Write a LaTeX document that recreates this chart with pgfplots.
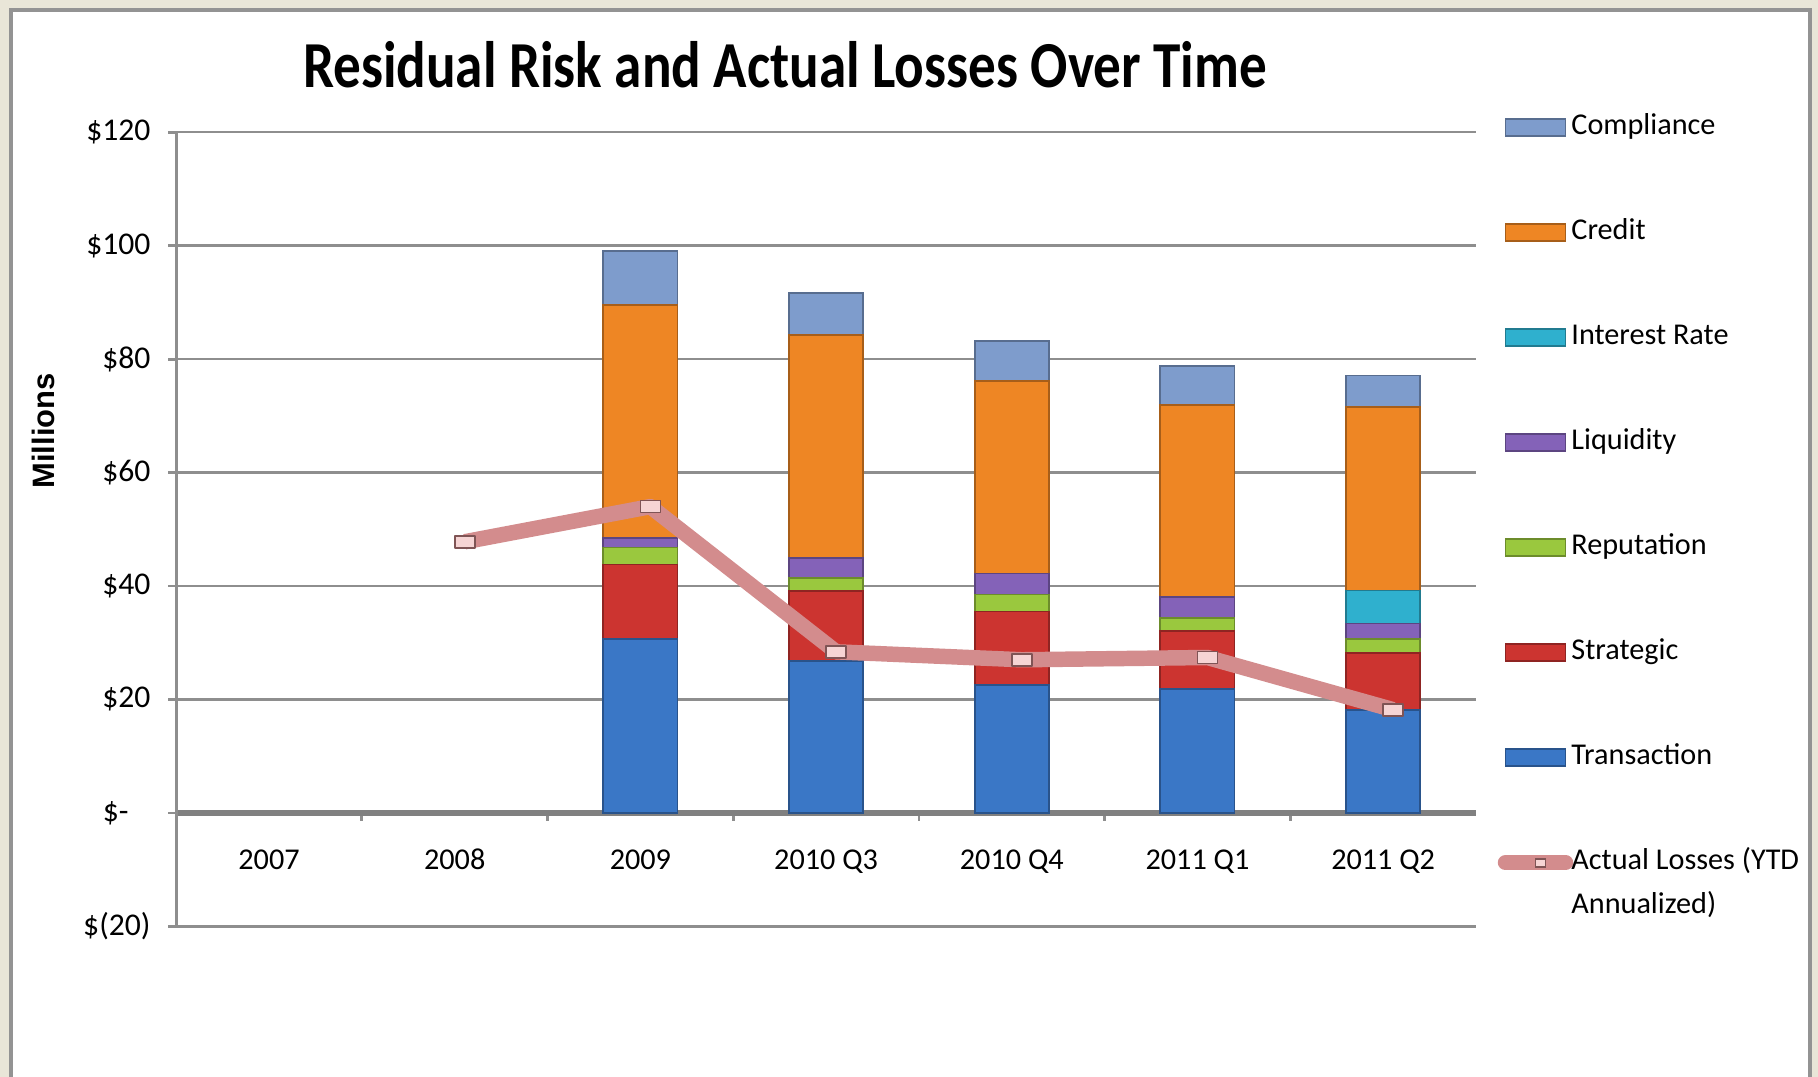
\documentclass[border=0pt]{standalone}
\usepackage{fontspec}
\setmainfont{Carlito}
\newfontfamily\millfont{Liberation Sans}
\usepackage{graphicx}
\usepackage{pgfplots}
\usepackage{pgfplotstable}
\pgfplotsset{compat=1.18}

\definecolor{compC}{HTML}{7E9CCC}
\definecolor{credC}{HTML}{EE8624}
\definecolor{intC}{HTML}{2FB0CE}
\definecolor{liqC}{HTML}{8462B8}
\definecolor{repC}{HTML}{9AC83E}
\definecolor{strC}{HTML}{CC3430}
\definecolor{traC}{HTML}{3A77C6}
\definecolor{lossC}{HTML}{D38C8D}
\definecolor{lossF}{HTML}{F6D4D4}
\definecolor{gridC}{HTML}{8E8E8E}
\definecolor{bgC}{HTML}{E9E6D8}

\tikzset{bar3d/.style={fill=#1, draw=#1!70!black, line width=0.5pt}}
\pgfdeclareplotmark{lossbox}{\pgfpathrectangle{\pgfpoint{-0.1cm}{-0.06cm}}{\pgfpoint{0.2cm}{0.12cm}}\pgfusepath{fill,stroke}}

\pgfplotstableread{
x trans strat rep liq int cred comp
2 30.6 13.2 3.0 1.6 0.0 41.2 9.4
3 26.8 12.3 2.3 3.6 0.0 39.2 7.4
4 22.6 12.9 3.0 3.7 0.0 33.9 7.1
5 21.8 10.3 2.3 3.6 0.0 33.9 6.9
6 18.2 10.0 2.4 2.8 5.8 32.3 5.6
}\riskdata

\pgfplotstableread{
x loss
1 47.8
2 54.0
3 28.4
4 27.0
5 27.4
6 18.2
}\lossdata

\begin{document}
\begin{tikzpicture}
\fill[bgC] (0,0) rectangle (18.18,10.77);
\fill[white] (0.11,0) rectangle (18.10,10.67);
\draw[gray!85, line width=1.2pt] (0.11,-0.1) -- (0.11,10.67) -- (18.10,10.67) -- (18.10,-0.1);
\begin{axis}[
  at={(1.762cm,1.506cm)}, anchor=south west,
  scale only axis, width=12.998cm, height=7.942cm,
  xmin=-0.5, xmax=6.5, ymin=-20, ymax=120,
  ybar stacked, bar width=0.4,
  axis y line*=left, axis x line*=middle,
  hide obscured x ticks=false, hide obscured y ticks=false,
  y axis line style={draw=gridC, line width=0.9pt},
  x axis line style={draw=gray, line width=1.6pt},
  tick align=outside, major tick length=0.08cm,
  tick style={draw=gridC, line width=0.8pt},
  ytick={-20,0,20,40,60,80,100,120},
  yticklabels={\$(20),{\$-\rule{0.22cm}{0pt}},\$20,\$40,\$60,\$80,\$100,\$120},
  yticklabel style={anchor=east, inner sep=0pt, xshift=-0.17cm, font=\fontsize{9}{10}\selectfont},
  ymajorgrids, grid style={draw=gridC, line width=0.7pt},
  xtick={0.5,1.5,2.5,3.5,4.5,5.5}, xticklabels={},
  extra x ticks={0,1,2,3,4,5,6},
  extra x tick labels={2007,2008,2009,2010 Q3,2010 Q4,2011 Q1,2011 Q2},
  extra x tick style={major tick length=0pt, xticklabel style={anchor=base, yshift=-0.57cm, font=\fontsize{8.6}{10}\selectfont}},
  ylabel={Millions},
  ylabel style={at={(axis description cs:-0.1025,0.6238)}, anchor=center, font=\millfont\bfseries\fontsize{8.8}{10}\selectfont},
  title={\scalebox{1}[1.19]{Residual Risk and Actual Losses Over Time}},
  title style={at={(axis description cs:0.4684,1.0586)}, anchor=center, font=\bfseries\fontsize{15.7}{18}\selectfont},
  legend style={at={(axis description cs:1.0215,1.0255)}, anchor=north west, draw=none, fill=none,
    inner sep=0pt, row sep=0.75cm, font=\fontsize{8.6}{10}\selectfont,
    nodes={inner sep=0pt, text height=0.22cm, text depth=0.08cm},
    /tikz/every odd column/.append style={column sep=0.05cm}},
  legend cell align=left,
]
\addlegendimage{legend image code/.code={\draw[bar3d=compC] (0cm,-0.085cm) rectangle (0.6cm,0.085cm);}}
\addlegendentry{Compliance}
\addlegendimage{legend image code/.code={\draw[bar3d=credC] (0cm,-0.085cm) rectangle (0.6cm,0.085cm);}}
\addlegendentry{Credit}
\addlegendimage{legend image code/.code={\draw[bar3d=intC] (0cm,-0.085cm) rectangle (0.6cm,0.085cm);}}
\addlegendentry{Interest Rate}
\addlegendimage{legend image code/.code={\draw[bar3d=liqC] (0cm,-0.085cm) rectangle (0.6cm,0.085cm);}}
\addlegendentry{Liquidity}
\addlegendimage{legend image code/.code={\draw[bar3d=repC] (0cm,-0.085cm) rectangle (0.6cm,0.085cm);}}
\addlegendentry{Reputation}
\addlegendimage{legend image code/.code={\draw[bar3d=strC] (0cm,-0.085cm) rectangle (0.6cm,0.085cm);}}
\addlegendentry{Strategic}
\addlegendimage{legend image code/.code={\draw[bar3d=traC] (0cm,-0.085cm) rectangle (0.6cm,0.085cm);}}
\addlegendentry{Transaction}
\addlegendimage{legend image code/.code={\path[draw=none, fill=none] (0cm,-0.085cm) rectangle (0.6cm,0.085cm); \draw[overlay, draw=lossC, line width=4.4pt, line cap=round] (0cm,0cm) -- (0.6cm,0cm); \filldraw[overlay, fill=lossF, draw=lossC!60!black, line width=0.5pt] (0.3cm,-0.04cm) rectangle (0.4cm,0.04cm);}}
\addlegendentry{\smash{\vtop{\baselineskip=0.44cm\hbox{Actual Losses (YTD}\hbox{Annualized)}}}}

\addplot[bar3d=traC, forget plot] table[x=x, y=trans] {\riskdata};
\addplot[bar3d=strC, forget plot] table[x=x, y=strat] {\riskdata};
\addplot[bar3d=repC, forget plot] table[x=x, y=rep] {\riskdata};
\addplot[bar3d=liqC, forget plot] table[x=x, y=liq] {\riskdata};
\addplot[bar3d=intC, forget plot] table[x=x, y=int] {\riskdata};
\addplot[bar3d=credC, forget plot] table[x=x, y=cred] {\riskdata};
\addplot[bar3d=compC, forget plot] table[x=x, y=comp] {\riskdata};
\end{axis}
\begin{axis}[
  at={(1.762cm,1.506cm)}, anchor=south west,
  scale only axis, width=12.998cm, height=7.942cm,
  xmin=-0.5, xmax=6.5, ymin=-20, ymax=120,
  hide axis, clip=false,
]
\addplot[sharp plot, draw=lossC, line width=4.4pt, line join=round,
  xshift=0.1cm, mark=lossbox, mark options={fill=lossF, draw=lossC!60!black, line width=0.5pt, solid}]
  table[x=x, y=loss] {\lossdata};
\end{axis}
\pgfresetboundingbox
\useasboundingbox (0,0) rectangle (18.18,10.77);
\end{tikzpicture}
\end{document}
